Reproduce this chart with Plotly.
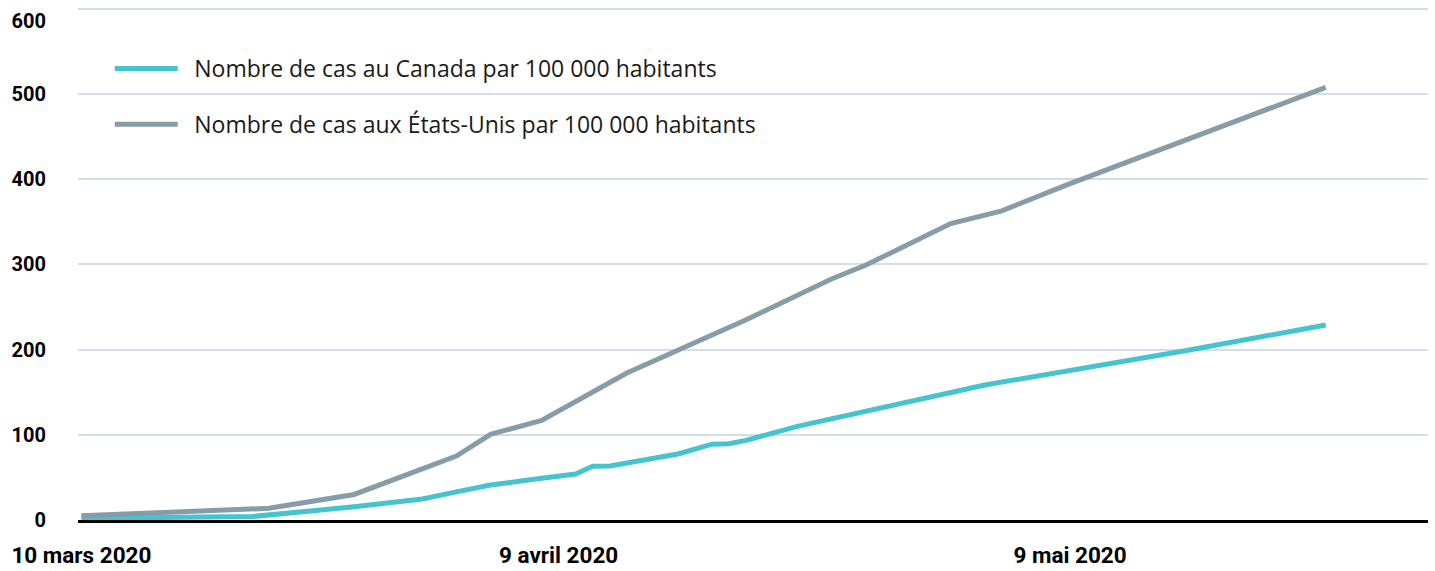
import plotly.graph_objects as go

# Tick labels (category-like day index positions)
jours_ticks = [0, 28, 58]
etiquettes_x = ["10 mars 2020", "9 avril 2020", "9 mai 2020"]
valeurs_y = [0, 100, 200, 300, 400, 500, 600]
etiquettes_y = ["0", "100", "200", "300", "400", "500", "600"]

# Canada: cases per 100 000 inhabitants
canada_jour = [0, 10, 16, 20, 22, 24, 27, 29, 30, 31, 35, 37, 38, 39, 42, 51, 53, 65, 73]
canada_cas = [2, 4, 15.6, 24.6, 33, 41, 49, 54, 63, 63.5, 77.5, 89, 89.5, 93.5, 110, 148.5, 158.5, 199.6, 229]

# United States: cases per 100 000 inhabitants
eu_jour = [0, 11, 16, 22, 24, 27, 32, 36, 39, 44, 46, 51, 54, 58, 73]
eu_cas = [5, 13.7, 30, 75, 100.6, 117, 172.6, 208.5, 235, 283, 299, 348, 363, 395, 508]

noms = ["Nombre de cas au Canada par 100 000 habitants",
        "Nombre de cas aux États-Unis par 100 000 habitants"]
couleurs = ["#45C4CF", "#869CA8"]

fig = go.Figure()
fig.add_trace(go.Scatter(x=canada_jour, y=canada_cas, mode="lines", name="\u2002" + noms[0],
                         legendgroup="a",
                         line=dict(color=couleurs[0], width=5)))
fig.add_trace(go.Scatter(x=eu_jour, y=eu_cas, mode="lines", name="\u2002" + noms[1],
                         legendgroup="b",
                         line=dict(color=couleurs[1], width=5)))
# empty helper trace so the secondary axis (carrying the top label) is drawn
fig.add_trace(go.Scatter(x=[None], y=[None], yaxis="y2", mode="lines",
                         showlegend=False, hoverinfo="skip"))

police_ticks = dict(family="Roboto", size=20, color="black", weight="bold")
y_range = [0, 602.3]

fig.update_layout(
    width=1435, height=571,
    margin=dict(l=78, r=7, t=7, b=51, autoexpand=False),
    paper_bgcolor="white", plot_bgcolor="white",
    showlegend=True,
    legend=dict(x=0.0235, y=0.922, xanchor="left", yanchor="top",
                font=dict(family="Open Sans", size=23, color="#1a1a1a"),
                bgcolor="rgba(0,0,0,0)", tracegroupgap=23, itemwidth=63,
                traceorder="grouped"),
    xaxis=dict(range=[-0.2, 79.0], tickmode="array", tickvals=jours_ticks,
               ticktext=etiquettes_x, showgrid=False, zeroline=False,
               showline=True, linecolor="black", linewidth=3, ticks="",
               ticklabelstandoff=13, automargin=False,
               tickfont=dict(family="Roboto", size=22.5, color="black", weight="bold")),
    yaxis=dict(range=y_range, tickmode="array", tickvals=valeurs_y,
               ticktext=etiquettes_y[:-1] + [""], showgrid=True, gridcolor="#D3DEE6",
               gridwidth=2, zeroline=False, showline=False, ticks="",
               ticklabelstandoff=31, automargin=False,
               tickfont=police_ticks),
    yaxis2=dict(range=y_range, overlaying="y", side="left", anchor="x",
                tickmode="array", tickvals=valeurs_y[-1:], ticktext=etiquettes_y[-1:],
                showgrid=False, zeroline=False, showline=False, ticks="",
                ticklabelstandoff=31, ticklabelshift=12, automargin=False,
                ticklabeloverflow="allow", tickfont=police_ticks),
)

fig.write_html("out.html", config={"displayModeBar": False},
               post_script="document.body.style.margin='0';document.body.style.overflow='hidden';")
